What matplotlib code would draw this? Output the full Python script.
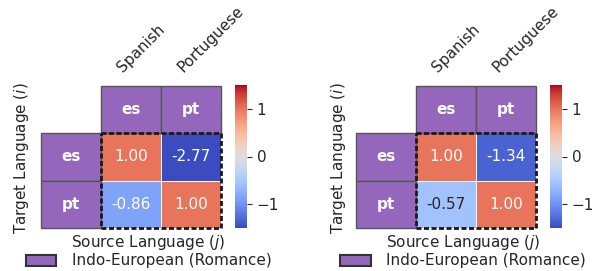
import numpy as np
import matplotlib.pyplot as plt
import seaborn as sns
from matplotlib.patches import Rectangle, Patch

langs = ["es", "pt"]
names = ["Spanish", "Portuguese"]
left_vals = np.array([[1.00, -2.77], [-0.86, 1.00]])
right_vals = np.array([[1.00, -1.34], [-0.57, 1.00]])
family_label = "Indo-European (Romance)"
purple = "#9467bd"

plt.rcParams["text.color"] = "#262626"
plt.rcParams["ytick.color"] = "#262626"

W, H = 606, 271
fig = plt.figure(figsize=(W / 100, H / 100), dpi=100)


def px_axes(x0, y0, x1, y1):
    # pixel box (top-left origin) -> figure axes
    return fig.add_axes([x0 / W, 1 - y1 / H, (x1 - x0) / W, (y1 - y0) / H])


def draw_panel(vals, hx, cx, lab_x, ylab_x):
    ax = px_axes(hx, 133, hx + 120, 228)
    cax = px_axes(cx, 85, cx + 12, 228)
    sns.heatmap(vals, ax=ax, cbar_ax=cax, cmap="coolwarm", vmin=-1.5, vmax=1.5,
                annot=True, fmt=".2f", annot_kws={"fontsize": 11},
                linewidths=0.6, linecolor="white", xticklabels=False, yticklabels=False)
    cax.set_yticks([-1, 0, 1])
    cax.tick_params(labelsize=11)

    n = len(langs)
    for k, lang in enumerate(langs):
        # header row on top and label column on the left
        for (x, y) in [(k, -1), (-1, k)]:
            ax.add_patch(Rectangle((x, y), 1, 1, facecolor=purple, edgecolor="#555555",
                                   lw=1, clip_on=False))
            ax.text(x + 0.5, y + 0.5, lang, color="white", fontweight="bold",
                    fontsize=11, ha="center", va="center", clip_on=False)
        ax.annotate(names[k], xy=(k + 0.5, -1), xytext=(-8, 13), textcoords="offset pixels",
                    rotation=45, rotation_mode="anchor", ha="left", va="baseline",
                    fontsize=11, annotation_clip=False)

    ax.add_patch(Rectangle((0, 0), n, n, fill=False, edgecolor="#1a1a1a", lw=2,
                           linestyle=(0, (1.8, 0.9)), clip_on=False, zorder=5))

    fig.text(lab_x / W, 1 - 243 / H, "Source Language ($j$)", fontsize=11,
             ha="center", va="center")
    fig.text(ylab_x / W, 1 - 158 / H, "Target Language ($i$)", fontsize=11,
             ha="center", va="center", rotation=90)
    fig.legend(handles=[Patch(facecolor=purple, edgecolor="#333333", lw=1.5,
                              label=family_label)],
               loc="center", bbox_to_anchor=(lab_x / W, 1 - 261 / H), frameon=False,
               fontsize=11, borderpad=0, borderaxespad=0, handletextpad=1.0)


draw_panel(left_vals, 101, 235, 148.5, 22)
draw_panel(right_vals, 416, 550, 463, 338)

fig.savefig("out.png", dpi=100)
